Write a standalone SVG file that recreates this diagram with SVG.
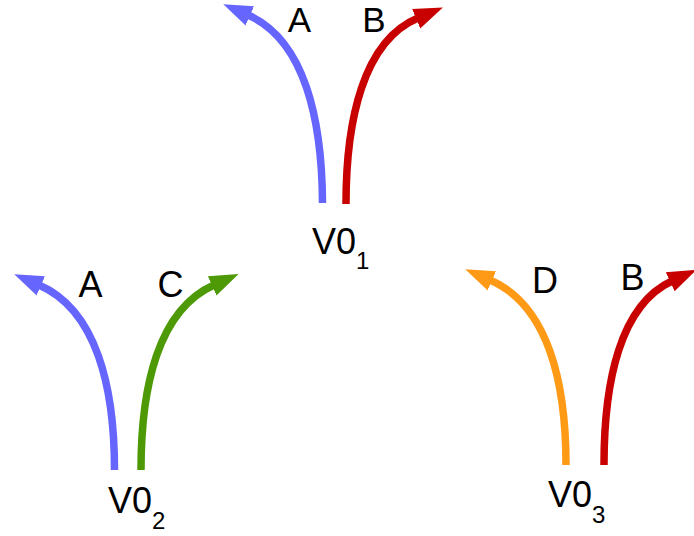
<svg xmlns="http://www.w3.org/2000/svg" width="694" height="536" viewBox="0 0 694 536">
<style>
text{font-family:"Liberation Sans",Arial,sans-serif;fill:#000}
.lbl{font-size:36px;text-anchor:middle}
.top{font-size:35px}
.v{font-size:36px}
.sub{font-size:24px}
.arr{fill:none;stroke-width:7.5;stroke-linecap:butt}
.blue{stroke:#6666ff}
.red{stroke:#c80000}
.green{stroke:#4e9a06}
.orange{stroke:#ff9a17}
</style>
<defs>
<marker id="mBlue" markerUnits="userSpaceOnUse" viewBox="0 -15 40 30" markerWidth="40" markerHeight="30" refX="2" refY="0" orient="auto"><path d="M0,-10.5 L29,0 L0,10.5 Z" fill="#6666ff"/></marker>
<marker id="mRed" markerUnits="userSpaceOnUse" viewBox="0 -15 40 30" markerWidth="40" markerHeight="30" refX="2" refY="0" orient="auto"><path d="M0,-10.5 L29,0 L0,10.5 Z" fill="#c80000"/></marker>
<marker id="mGreen" markerUnits="userSpaceOnUse" viewBox="0 -15 40 30" markerWidth="40" markerHeight="30" refX="2" refY="0" orient="auto"><path d="M0,-10.5 L29,0 L0,10.5 Z" fill="#4e9a06"/></marker>
<marker id="mOrange" markerUnits="userSpaceOnUse" viewBox="0 -15 40 30" markerWidth="40" markerHeight="30" refX="2" refY="0" orient="auto"><path d="M0,-10.5 L29,0 L0,10.5 Z" fill="#ff9a17"/></marker>
</defs>
<rect width="694" height="536" fill="#fff"/>
<g id="connectors">
<path class="arr blue" d="M322.5,203 c -0.5,-83 -17.5,-163 -74.5,-188" marker-end="url(#mBlue)"/>
<path class="arr red" d="M346,204 c 0,-83 17,-163 72,-186" marker-end="url(#mRed)"/>
<path class="arr blue" d="M114.5,470 c 0,-83 -18,-160 -75.5,-185" marker-end="url(#mBlue)"/>
<path class="arr green" d="M141,470 c 0,-83 17,-160 73,-185" marker-end="url(#mGreen)"/>
<path class="arr orange" d="M566,465 c 0,-83 -18,-160 -76,-185" marker-end="url(#mOrange)"/>
<path class="arr red" d="M604,465 c 0,-83 16,-160 68,-184" marker-end="url(#mRed)"/>
</g>
<g id="v01">
<text class="lbl top" x="299.5" y="32">A</text>
<text class="lbl top" x="374" y="32">B</text>
<text class="v" x="312" y="254">V0<tspan class="sub" dy="15">1</tspan></text>
</g>
<g id="v02">
<text class="lbl" x="90.5" y="297">A</text>
<text class="lbl" x="170.5" y="297">C</text>
<text class="v" x="108" y="513">V0<tspan class="sub" dy="16">2</tspan></text>
</g>
<g id="v03">
<text class="lbl" x="545" y="293">D</text>
<text class="lbl" x="632.5" y="290">B</text>
<text class="v" x="548" y="507">V0<tspan class="sub" dy="16">3</tspan></text>
</g>
</svg>
